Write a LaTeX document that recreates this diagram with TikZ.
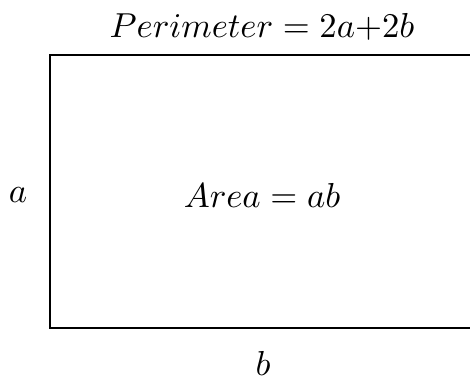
\documentclass[tikz,border=0pt]{standalone}
\begin{document}
\begin{tikzpicture}[x=0.3pt,y=-0.3pt,
  lbl/.style={inner sep=0pt,font=\normalsize,scale=1.04},
  edge/.style={line width=0.65pt}]
\useasboundingbox (0,0) rectangle (470,377);
\begin{scope}
\clip (0,0) rectangle (470,377);
\coordinate (tl) at (50,55);
\coordinate (tr) at (480,55);
\coordinate (bl) at (50,328);
\coordinate (br) at (480,328);
\draw[edge] (tr) -- (tl) -- (bl) -- (br);
\end{scope}
\node[lbl] (per) at (262,27) {$Perimeter = 2a{+}2b$};
\node[lbl] (area) at (262,195) {$Area = ab$};
\node[lbl] (a) at (18,195) {$a$};
\node[lbl] (b) at (263,363) {$b$};
\end{tikzpicture}
\end{document}
